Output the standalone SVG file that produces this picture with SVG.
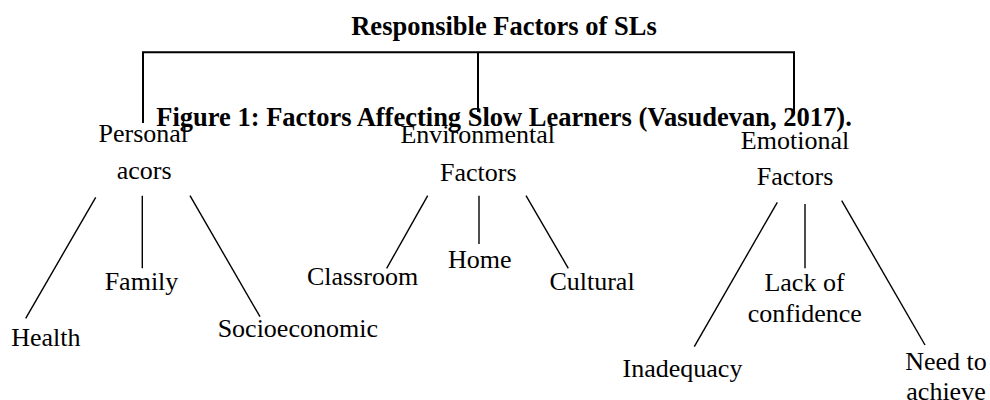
<svg xmlns="http://www.w3.org/2000/svg" width="990" height="400" viewBox="0 0 990 400">
<style>
text{font-family:"Liberation Serif","Times New Roman",serif;fill:#000;text-anchor:middle}
.b{font-weight:bold;font-size:26.5px}
.r{font-size:26px}
.br{stroke:#000;stroke-width:2;fill:none}
.ln{stroke:#000;stroke-width:1.4;fill:none}
</style>
<rect width="990" height="400" fill="#fff"/>
<g id="connectors">
<path class="br" d="M143 123V52.3H794V113M478 52.3V112"/>
<line class="ln" x1="95.7" y1="197.3" x2="25.7" y2="318.3"/>
<line class="ln" x1="142.3" y1="195.7" x2="142.3" y2="268.3"/>
<line class="ln" x1="190" y1="195.7" x2="260" y2="316.7"/>
<line class="ln" x1="427.7" y1="195.7" x2="386.7" y2="268.3"/>
<line class="ln" x1="479" y1="195.7" x2="479" y2="244"/>
<line class="ln" x1="526" y1="195.7" x2="568.3" y2="268.3"/>
<line class="ln" x1="777.3" y1="202.3" x2="694.3" y2="346.7"/>
<line class="ln" x1="805" y1="204" x2="805" y2="268.3"/>
<line class="ln" x1="841.7" y1="200.7" x2="925" y2="345"/>
</g>
<g id="root"><text class="b" x="504" y="35">Responsible Factors of SLs</text></g>
<g id="caption"><text class="b" x="504" y="126">Figure 1: Factors Affecting Slow Learners (Vasudevan, 2017).</text></g>
<g id="personal"><text class="r" x="143.3" y="141.7">Personal</text><text class="r" x="144.2" y="179">acors</text></g>
<g id="environmental"><text class="r" x="477.7" y="142.7">Environmental</text><text class="r" x="478.3" y="180.5">Factors</text></g>
<g id="emotional"><text class="r" x="795" y="149">Emotional</text><text class="r" x="795" y="185">Factors</text></g>
<g id="health"><text class="r" x="45.8" y="345.7">Health</text></g>
<g id="family"><text class="r" x="141.5" y="290">Family</text></g>
<g id="socioeconomic"><text class="r" x="297.8" y="337.3">Socioeconomic</text></g>
<g id="classroom"><text class="r" x="362.5" y="285">Classroom</text></g>
<g id="home"><text class="r" x="479.7" y="268.3">Home</text></g>
<g id="cultural"><text class="r" x="592" y="290">Cultural</text></g>
<g id="lack"><text class="r" x="804.5" y="290.7">Lack of</text><text class="r" x="804.8" y="322.3">confidence</text></g>
<g id="inadequacy"><text class="r" x="682.5" y="376.7">Inadequacy</text></g>
<g id="need"><text class="r" x="946" y="369.5">Need to</text><text class="r" x="946" y="400">achieve</text></g>
</svg>
